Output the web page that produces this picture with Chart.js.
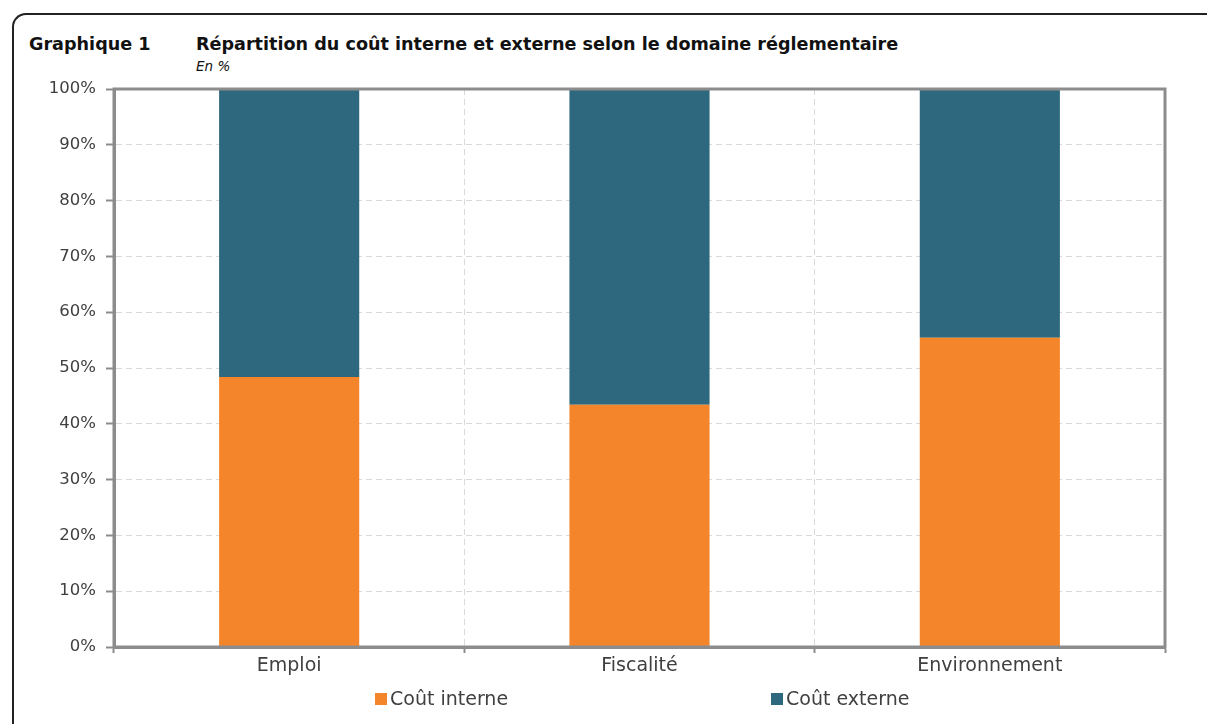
<!DOCTYPE html>
<html lang="fr">
<head>
<meta charset="utf-8">
<script src="https://cdn.jsdelivr.net/npm/chart.js@4/dist/chart.umd.min.js"></script>
<style>
  html, body { margin: 0; padding: 0; background: #fff; }
  body { width: 1207px; height: 724px; position: relative; overflow: hidden; font-family: "DejaVu Sans", sans-serif; }
  .cadre { position: absolute; left: 12px; top: 13px; right: -20px; bottom: -20px;
           border-top: 2px solid #222; border-left: 2px solid #222; border-top-left-radius: 14px; }
  .num { position: absolute; left: 29px; top: 34px; font-weight: bold; font-size: 17.6px; color: #111; }
  .titre { position: absolute; left: 196px; top: 34px; font-weight: bold; font-size: 17.6px; color: #111; white-space: nowrap; }
  .unite { position: absolute; left: 196px; top: 58px; font-style: italic; font-size: 13.5px; color: #111; }
  #graph { position: absolute; left: 0; top: 0; }
  #legende { position: absolute; top: 687px; left: 0; width: 1207px; height: 26px; }
  #legende span { position: absolute; top: 0; font-size: 19px; color: #404040; white-space: nowrap; }
  #legende i { display: inline-block; width: 12px; height: 12px; margin-right: 3px; vertical-align: 0px; }
</style>
</head>
<body>
<div class="cadre"></div>
<div class="num">Graphique 1</div>
<div class="titre">Répartition du coût interne et externe selon le domaine réglementaire</div>
<div class="unite">En %</div>
<canvas id="graph" width="1207" height="724"></canvas>
<div id="legende"></div>
<script>
// domaines et parts (en %)
const domaines = ["Emploi", "Fiscalité", "Environnement"];
const coutInterne = [48.4, 43.4, 55.4];
const coutExterne = [51.6, 56.6, 44.6];
const graduations = [0, 10, 20, 30, 40, 50, 60, 70, 80, 90, 100];

const ORANGE = "#f4852a";
const BLEU = "#2e687e";
const GRIS_AXE = "#8c8c8c";

// cadre gris autour de la zone de tracé
const bordureZone = {
  id: "bordureZone",
  afterDraw(chart) {
    const { ctx, chartArea: a } = chart;
    ctx.save();
    ctx.strokeStyle = GRIS_AXE;
    ctx.lineWidth = 3;
    ctx.strokeRect(a.left, a.top, a.right - a.left, a.bottom - a.top);
    ctx.restore();
  }
};

const chart = new Chart(document.getElementById("graph"), {
  type: "bar",
  data: {
    labels: domaines,
    datasets: [
      { label: "Coût interne", data: coutInterne, backgroundColor: ORANGE },
      { label: "Coût externe", data: coutExterne, backgroundColor: BLEU }
    ]
  },
  options: {
    responsive: false,
    animation: false,
    layout: { padding: { left: 0, top: 89, right: 42, bottom: 47 } },
    plugins: { legend: { display: false }, tooltip: { enabled: false } },
    datasets: { bar: { barPercentage: 0.4, categoryPercentage: 1 } },
    scales: {
      x: {
        stacked: true,
        afterFit: s => { s.height = 30; },
        grid: { offset: true, color: "#d9d9d9", tickBorderDash: [], tickColor: GRIS_AXE, tickWidth: 2, tickLength: 6 },
        border: { color: GRIS_AXE, width: 3, dash: [6, 4] },
        ticks: { color: "#404040", font: { family: "DejaVu Sans", size: 19 }, padding: 2 }
      },
      y: {
        stacked: true,
        min: 0,
        max: 100,
        afterFit: s => { s.width = 114; },
        afterBuildTicks: s => { s.ticks = graduations.map(v => ({ value: v })); },
        grid: { color: "#d9d9d9", tickBorderDash: [], tickColor: GRIS_AXE, tickWidth: 2, tickLength: 8 },
        border: { color: GRIS_AXE, width: 3, dash: [6, 4] },
        ticks: { color: "#404040", font: { family: "DejaVu Sans", size: 16.5 }, padding: 10, callback: v => v + "%" }
      }
    }
  },
  plugins: [bordureZone]
});

// légende construite à partir des séries
const positions = [375, 771];
const legende = document.getElementById("legende");
chart.data.datasets.forEach((ds, i) => {
  const el = document.createElement("span");
  el.style.left = positions[i] + "px";
  el.innerHTML = '<i style="background:' + ds.backgroundColor + '"></i>' + ds.label;
  legende.appendChild(el);
});
</script>
</body>
</html>
